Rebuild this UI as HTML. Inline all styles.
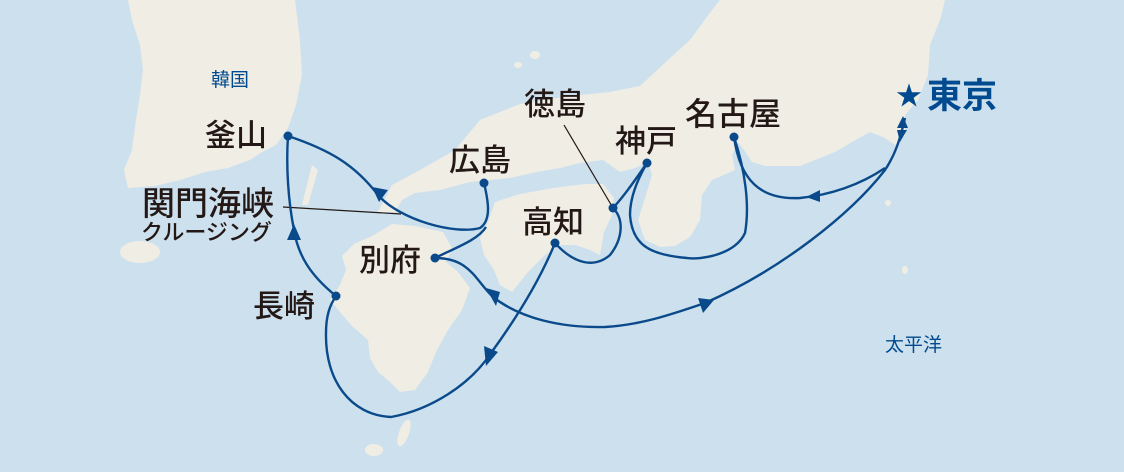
<!DOCTYPE html>
<html><head><meta charset="utf-8"><style>
html,body{margin:0;padding:0;background:#cde0ee;}
svg{display:block}
text{font-family:"Liberation Sans","Noto Sans CJK JP",sans-serif;}
</style></head><body>
<svg width="1124" height="472" viewBox="0 0 1124 472" xmlns="http://www.w3.org/2000/svg">
<rect width="1124" height="472" fill="#cde0ee"/>
<g fill="#f0ede4">
<path d="M128,0 L295,0 L300,40 L302,75 L296,105 L288,128 L276,145 L262,152 L250,160 L228,168 L205,172 L180,180 L155,186 L128,188 L124,170 L132,150 L136,120 L140,95 L143,70 L140,45 L132,20 Z"/>
<ellipse cx="140" cy="252" rx="20" ry="11"/>
<path d="M312,165 L318,170 L308,205 L302,205 Z"/>
<path d="M378,212 L392,185 L420,170 L455,150 L480,120 L520,104 L570,96 L610,92 L640,86 L668,60 L690,40 L712,10 L720,0 L945,0 L940,20 L930,45 L928,75 L918,100 L905,115 L905,135 L895,145 L885,138 L870,132 L852,142 L835,152 L815,160 L800,166 L785,166 L765,166 L752,162 L744,150 L738,142 L732,155 L735,170 L712,180 L702,195 L700,220 L690,237 L675,246 L660,247 L645,240 L638,220 L645,198 L652,175 L648,162 L635,168 L620,172 L603,160 L580,163 L560,168 L537,172 L510,178 L470,182 L440,190 L415,193 L402,200 L395,212 Z"/>
<path d="M495,202 L520,194 L553,188 L585,184 L603,184 L614,198 L612,215 L604,232 L600,255 L590,250 L575,245 L560,245 L545,255 L528,272 L512,292 L500,285 L494,270 L484,255 L480,238 L488,222 Z"/>
<path d="M392,224 L415,226 L443,232 L452,248 L446,262 L458,272 L470,288 L462,310 L448,330 L436,352 L428,372 L415,390 L400,392 L390,382 L378,372 L370,358 L368,340 L352,326 L340,312 L330,300 L340,285 L346,270 L342,256 L354,244 L372,236 Z"/>
<ellipse cx="404" cy="433" rx="5" ry="14" transform="rotate(20 404 433)"/>
<ellipse cx="374" cy="450" rx="9" ry="6"/>
<ellipse cx="535" cy="55" rx="5" ry="4"/>
<ellipse cx="518" cy="65" rx="4" ry="3"/>
<ellipse cx="888" cy="203" rx="3" ry="3"/>
<ellipse cx="905" cy="270" rx="3" ry="4"/>
</g>
<g stroke="#231815" stroke-width="1.2" fill="none">
<line x1="283" y1="207" x2="401" y2="214"/>
<line x1="564" y1="125" x2="613" y2="208"/>
</g>
<g stroke="#0a4a8a" stroke-width="2.4" fill="none">
<path d="M288,136 C330,150 355,165 378,195 C400,220 455,235 480,228 C492,220 488,200 484,183"/>
<path d="M486,227 C478,240 455,248 435,258"/>
<path d="M435,258 C470,258 475,280 493,297 C520,318 560,328 605,327 C640,325 670,315 705,303 C780,270 850,215 885,170 C895,155 900,140 905,118"/>
<path d="M885,168 C860,185 830,195 800,198 C760,200 740,180 734,137"/>
<path d="M734,137 C745,170 750,205 745,233 C735,255 700,260 687,258 C650,255 632,245 630,215 C630,195 640,175 647,163"/>
<path d="M647,163 C635,180 625,195 613,208 C625,220 622,240 610,255 C595,268 575,265 555,243"/>
<path d="M555,243 C540,280 515,320 491,353 C470,385 430,410 391,417 C350,415 325,380 326,333 C326,315 330,305 336,296"/>
<path d="M336,296 C310,275 298,255 294,230 C288,200 286,165 288,136"/>
</g>
<g fill="#0a4a8a">
<polygon points="372,187 388,190 379,202"/>
<polygon points="287,240 301,240 294,224"/>
<polygon points="486,288 500,292 496,306"/>
<polygon points="484,346 498,352 486,366"/>
<polygon points="698,298 714,300 703,313"/>
<polygon points="820,190 820,202 806,197"/>
<polygon points="897,128 908,128 903,116"/>
<polygon points="897,130 907,130 900,142"/>
<circle cx="288" cy="136" r="4.5"/>
<circle cx="484" cy="183" r="4.5"/>
<circle cx="435" cy="258" r="4.5"/>
<circle cx="336" cy="296" r="4.5"/>
<circle cx="555" cy="243" r="4.5"/>
<circle cx="613" cy="208" r="4.5"/>
<circle cx="647" cy="163" r="4.5"/>
<circle cx="734" cy="137" r="4.5"/>
</g>
<text x="909" y="105" fill="#004a8f" font-size="26" text-anchor="middle">★</text>
<g fill="#231815" font-size="31" font-weight="500">
<text x="205" y="146">釜山</text>
<text x="142" y="215" font-size="33">関門海峡</text>
<text x="359" y="271">別府</text>
<text x="253" y="317">長崎</text>
<text x="449" y="171">広島</text>
<text x="524" y="115">徳島</text>
<text x="522" y="233">高知</text>
<text x="615" y="152">神戸</text>
<text x="685" y="125" font-size="32">名古屋</text>
</g>
<text x="141" y="240" fill="#231815" font-size="22" font-weight="500">クルージング</text>
<text x="927" y="108" fill="#004a8f" font-size="35" font-weight="bold">東京</text>
<text x="211" y="86" fill="#004a8f" font-size="19">韓国</text>
<text x="885" y="351" fill="#004a8f" font-size="19">太平洋</text>
</svg>
</body></html>
